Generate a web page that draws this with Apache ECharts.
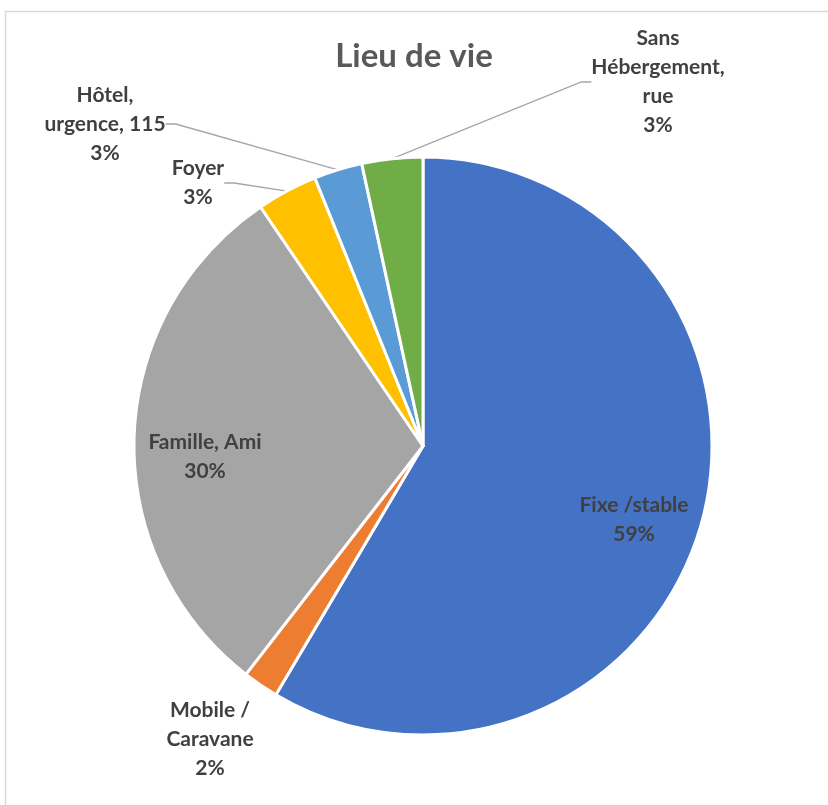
<!DOCTYPE html>
<html>
<head>
<meta charset="utf-8">
<script src="https://cdn.jsdelivr.net/npm/echarts@6/dist/echarts.min.js"></script>
<style>
html,body{margin:0;padding:0;background:#fff;}
#main{width:828px;height:805px;}
</style>
</head>
<body>
<div id="main"></div>
<script>
const titleText = 'Lieu de vie';
const categories = ['Fixe /stable', 'Mobile /\nCaravane', 'Famille, Ami', 'Foyer', 'Hôtel,\nurgence, 115', 'Sans\nHébergement,\nrue'];
const values = [58.5, 2.0, 30.0, 3.4, 2.7, 3.4];
const colors = ['#4472C4', '#ED7D31', '#A5A5A5', '#FFC000', '#5B9BD5', '#70AD47'];
// label anchor positions (layout only)
const labelPos = [[634, 520], [210, 739], [205, 457], [198, 183], [105, 124], [658, 82]];
const showLine = [false, false, false, true, true, true];

const chart = echarts.init(document.getElementById('main'), null, {renderer: 'canvas'});
const FONT = 'Lato, "Open Sans", sans-serif';
chart.setOption({
  animation: false,
  backgroundColor: '#ffffff',
  graphic: [{
    type: 'rect', silent: true, z: -1,
    shape: {x: 5.5, y: 11.5, width: 900, height: 900},
    style: {fill: 'none', stroke: '#D9D9D9', lineWidth: 1.5}
  }],
  title: {
    text: titleText, left: 'center', top: 35,
    textStyle: {fontFamily: FONT, fontSize: 33, fontWeight: 'bold', color: '#595959'}
  },
  series: [{
    type: 'pie',
    center: [423, 446],
    radius: [0, 289],
    startAngle: 90,
    clockwise: true,
    avoidLabelOverlap: false,
    itemStyle: {borderColor: '#ffffff', borderWidth: 3},
    label: {
      show: true,
      position: 'outside',
      fontFamily: FONT, fontSize: 21, fontWeight: 'bold', color: '#404040',
      lineHeight: 29, align: 'center',
      formatter: p => p.name + '\n' + Math.round(p.percent) + '%'
    },
    labelLine: {show: true, length: 10, length2: 10, lineStyle: {color: '#A6A6A6', width: 1.3}},
    labelLayout: p => ({
      x: labelPos[p.dataIndex][0],
      y: labelPos[p.dataIndex][1],
      align: 'center',
      verticalAlign: 'middle'
    }),
    data: categories.map((c, i) => ({
      name: c, value: values[i],
      itemStyle: {color: colors[i]},
      labelLine: {show: showLine[i]}
    }))
  }]
});
</script>
</body>
</html>
